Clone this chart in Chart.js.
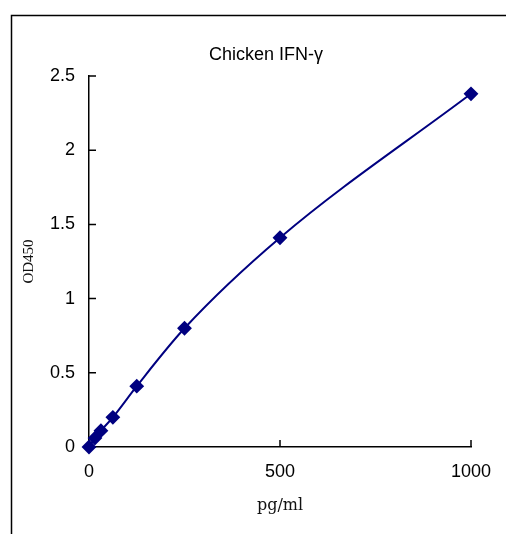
<!DOCTYPE html>
<html>
<head>
<meta charset="utf-8">
<script src="https://cdn.jsdelivr.net/npm/chart.js@4"></script>
<style>
  body { margin: 0; background: #fff; }
  canvas { display: block; }
</style>
</head>
<body>
<canvas id="curve" width="506" height="534"></canvas>
<script>
// standard curve values
const chartTitle = 'Chicken IFN-γ';
const concentrations = [0, 15.6, 31.25, 62.5, 125, 250, 500, 1000];
const od450 = [0, 0.06, 0.11, 0.2, 0.41, 0.8, 1.41, 2.38];
const xTickStep = 500;
const yTickStep = 0.5;

const navy = '#000080';

// outer frame, inner tick marks, title
const decorations = {
    id: 'decorations',
    beforeDraw(chart) {
        let ctx = chart.ctx;
        ctx.save();
        ctx.strokeStyle = '#000';
        ctx.lineWidth = 1.5;
        ctx.beginPath();
        ctx.moveTo(11.5, 534);
        ctx.lineTo(11.5, 15.5);
        ctx.lineTo(506, 15.5);
        ctx.stroke();
        ctx.fillStyle = '#000';
        ctx.font = '18px "Liberation Sans", Arial, sans-serif';
        ctx.textAlign = 'center';
        ctx.textBaseline = 'middle';
        ctx.fillText(chartTitle, 266, 55);
        ctx.restore();
    },
    beforeDatasetsDraw(chart) {
        let ctx = chart.ctx;
        let xs = chart.scales.x, ys = chart.scales.y;
        ctx.save();
        ctx.strokeStyle = '#000';
        ctx.lineWidth = 1.5;
        ctx.beginPath();
        ys.ticks.forEach(t => {
            let py = ys.getPixelForValue(t.value);
            ctx.moveTo(xs.left, py);
            ctx.lineTo(xs.left + 7, py);
        });
        xs.ticks.forEach(t => {
            let px = xs.getPixelForValue(t.value);
            ctx.moveTo(px, ys.bottom);
            ctx.lineTo(px, ys.bottom - 7);
        });
        ctx.stroke();
        ctx.restore();
    }
};

const tickFont = { size: 18, family: '"Liberation Sans", Arial, sans-serif' };

new Chart(document.getElementById('curve').getContext('2d'), {
    type: 'scatter',
    data: {
        datasets: [{
            data: concentrations.map((c, i) => ({ x: c, y: od450[i] })),
            showLine: true,
            borderColor: navy,
            borderWidth: 2,
            backgroundColor: navy,
            pointStyle: 'rectRot',
            pointRadius: 6,
            pointHoverRadius: 6,
            cubicInterpolationMode: 'monotone',
            clip: false
        }]
    },
    options: {
        responsive: false,
        animation: false,
        layout: { padding: { top: 76, right: 35, left: 0, bottom: 0 } },
        plugins: {
            legend: { display: false },
            title: { display: false },
            tooltip: { enabled: false }
        },
        scales: {
            x: {
                type: 'linear',
                min: 0,
                max: 1000,
                afterFit: (s) => { s.height = 87; },
                ticks: { stepSize: xTickStep, color: '#000', font: tickFont, padding: 14, maxRotation: 0,
                         callback: (v) => String(v) },
                grid: { drawOnChartArea: false, drawTicks: false },
                border: { display: true, color: '#000', width: 1.5 },
                title: {
                    display: true,
                    text: 'pg/ml',
                    color: '#111',
                    font: { size: 16, family: '"DejaVu Serif", serif' },
                    padding: { top: 0, bottom: 19 }
                }
            },
            y: {
                min: 0,
                max: 2.5,
                afterFit: (s) => { s.width = 89; },
                ticks: { stepSize: yTickStep, color: '#000', font: tickFont, padding: 14,
                         callback: (v) => String(v) },
                grid: { drawOnChartArea: false, drawTicks: false },
                border: { display: true, color: '#000', width: 1.5 },
                title: {
                    display: true,
                    text: 'OD450',
                    color: '#111',
                    font: { size: 15, family: '"Liberation Serif", serif' },
                    padding: { top: 20, bottom: 0 }
                }
            }
        }
    },
    plugins: [decorations]
});
</script>
</body>
</html>
